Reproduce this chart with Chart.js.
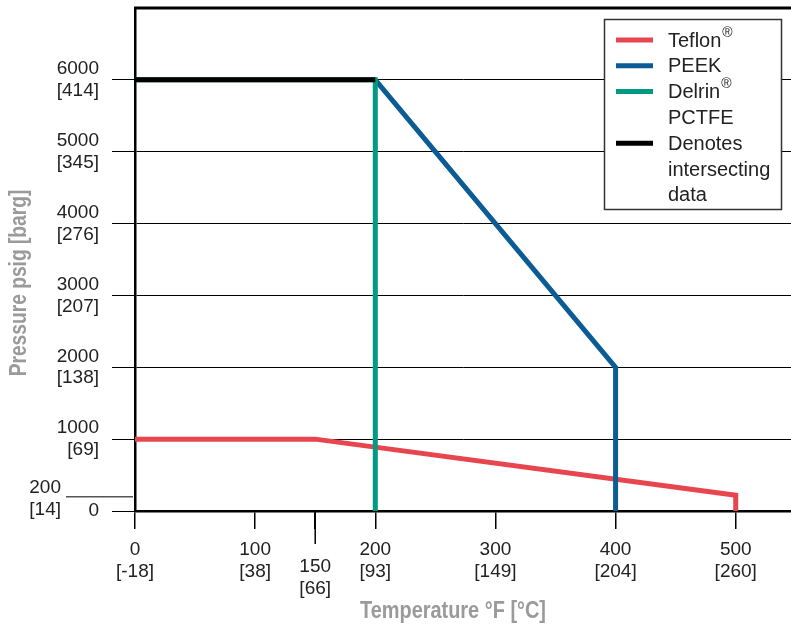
<!DOCTYPE html>
<html>
<head>
<meta charset="utf-8">
<script src="https://cdn.jsdelivr.net/npm/chart.js@4.4.1/dist/chart.umd.min.js"></script>
<style>
  html, body { margin: 0; padding: 0; background: #fff; }
  #wrap { position: relative; width: 791px; height: 635px; }
</style>
</head>
<body>
<div id="wrap"><canvas id="myChart" width="791" height="635"></canvas></div>
<script>
const FONT = "'Liberation Sans', Arial, sans-serif";

// x axis: temperature in F, with C in brackets
const tempTicks = [0, 100, 150, 200, 300, 400, 500];
const tempC = ['[-18]', '[38]', '[66]', '[93]', '[149]', '[204]', '[260]'];

// y axis: pressure psig, with barg in brackets
const pressTicks = [0, 1000, 2000, 3000, 4000, 5000, 6000];
const pressBarg = ['', '[69]', '[138]', '[207]', '[276]', '[345]', '[414]'];
const lowTick = 200;
const lowTickBarg = '[14]';

// series
const teflonX = [0, 150, 500, 500];
const teflonY = [1000, 1000, 220, 0];
const peekX = [200, 400, 400];
const peekY = [6000, 2000, 0];
const delrinX = [0, 200, 200];
const delrinY = [6000, 6000, 0];
const sharedX = [0, 200];
const sharedY = [6000, 6000];

const legendText = [['Teflon®'], ['PEEK'], ['Delrin®', 'PCTFE'], ['Denotes', 'intersecting', 'data']];

const pts = (xs, ys) => xs.map((x, i) => ({ x: x, y: ys[i] }));

function line(label, xs, ys, color, order) {
    return {
        label: label,
        data: pts(xs, ys),
        borderColor: color,
        backgroundColor: color,
        borderWidth: 5,
        pointRadius: 0,
        tension: 0,
        fill: false,
        borderJoinStyle: 'miter',
        borderCapStyle: 'butt',
        order: order
    };
}

// condensed-looking bold title (squeezed horizontally)
function titleText(c, s, x, y, rot, sq) {
    c.save();
    c.translate(x, y);
    if (rot) c.rotate(-Math.PI / 2);
    c.scale(sq, 1);
    c.fillText(s, 0, 0);
    c.restore();
}

// draws extra bits: top frame, 200 tick, x labels, axis titles, legend
const extras = {
    id: 'extras',
    afterDraw(chart) {
        const c = chart.ctx;
        const a = chart.chartArea;
        const xs = chart.scales.x;
        const ys = chart.scales.y;
        c.save();

        // top frame line
        c.strokeStyle = '#000';
        c.lineWidth = 3;
        c.beginPath();
        c.moveTo(a.left - 1, a.top);
        c.lineTo(a.right, a.top);
        c.stroke();

        // longer tick for 150
        const x150 = xs.getPixelForValue(150);
        c.lineWidth = 1.5;
        c.beginPath();
        c.moveTo(x150, a.bottom);
        c.lineTo(x150, a.bottom + 33);
        c.stroke();

        // 200 psig marker
        const y200 = ys.getPixelForValue(lowTick);
        c.strokeStyle = '#555';
        c.lineWidth = 1.5;
        c.beginPath();
        c.moveTo(66, y200);
        c.lineTo(a.left - 2, y200);
        c.stroke();
        c.fillStyle = '#222';
        c.font = '19px ' + FONT;
        c.textAlign = 'right';
        c.textBaseline = 'middle';
        c.fillText(String(lowTick), 61, y200 - 9);
        c.fillText(lowTickBarg, 61, y200 + 13);

        // x tick labels
        c.textAlign = 'center';
        tempTicks.forEach((t, i) => {
            const px = xs.getPixelForValue(t);
            const off = t === 150 ? 17 : 0;
            c.fillText(String(t), px, a.bottom + 39 + off);
            c.fillText(tempC[i], px, a.bottom + 61 + off);
        });

        // axis titles
        c.fillStyle = '#9a9a9a';
        c.font = 'bold 24px ' + FONT;
        titleText(c, 'Temperature °F [°C]', 453, 611, false, 0.83);
        titleText(c, 'Pressure psig [barg]', 19, 283, true, 0.8);

        // legend
        c.fillStyle = '#fff';
        c.fillRect(604, 19, 177, 190);
        c.strokeStyle = '#333';
        c.lineWidth = 1.5;
        c.strokeRect(604.5, 19.5, 177, 190);
        let row = 0;
        const ds = chart.data.datasets;
        legendText.forEach((lines, k) => {
            const yTop = 40 + row * 25.8;
            c.strokeStyle = ds[k].borderColor;
            c.lineWidth = 5;
            c.beginPath();
            c.moveTo(616, yTop);
            c.lineTo(653, yTop);
            c.stroke();
            lines.forEach((s, j) => {
                const ty = yTop + 1 + j * 25.8;
                c.fillStyle = '#222';
                c.textAlign = 'left';
                c.font = '20px ' + FONT;
                const parts = s.split('®');
                c.fillText(parts[0], 668, ty);
                if (parts.length > 1) {
                    const w = c.measureText(parts[0]).width;
                    c.font = '14px ' + FONT;
                    c.fillText('®', 668 + w + 1, ty - 8);
                }
            });
            row += lines.length;
        });

        c.restore();
    }
};

const ctx = document.getElementById('myChart').getContext('2d');

const myChart = new Chart(ctx, {
    type: 'line',
    data: {
        datasets: [
            line(legendText[0].join(' '), teflonX, teflonY, '#e8464e', 3),
            line(legendText[1].join(' '), peekX, peekY, '#0b5b94', 2),
            line(legendText[2].join(' '), delrinX, delrinY, '#009a83', 1),
            line(legendText[3].join(' '), sharedX, sharedY, '#000000', 0)
        ]
    },
    options: {
        responsive: false,
        animation: false,
        layout: { padding: { top: 8, right: 0, bottom: 0, left: 0 } },
        plugins: {
            legend: { display: false },
            tooltip: { enabled: false }
        },
        scales: {
            x: {
                type: 'linear',
                min: 0,
                max: 546,
                afterBuildTicks: s => { s.ticks = tempTicks.map(v => ({ value: v })); },
                afterFit: s => { s.height = 124; s.paddingLeft = 0; s.paddingRight = 0; },
                ticks: { display: false },
                grid: {
                    drawOnChartArea: false,
                    tickLength: 18,
                    color: '#000',
                    lineWidth: 1.5
                },
                border: { color: '#000', width: 2.5 }
            },
            y: {
                min: 0,
                max: 7000,
                afterBuildTicks: s => { s.ticks = pressTicks.map(v => ({ value: v })); },
                afterFit: s => { s.width = 135; s.paddingTop = 0; s.paddingBottom = 0; },
                ticks: {
                    padding: 13,
                    color: '#222',
                    font: { family: FONT, size: 19, lineHeight: 1.15 },
                    callback: (v) => {
                        const i = pressTicks.indexOf(v);
                        return v === 0 ? '0' : [String(v), pressBarg[i]];
                    }
                },
                grid: {
                    color: '#000',
                    lineWidth: 1,
                    tickLength: 23
                },
                border: { color: '#000', width: 2.5 }
            }
        }
    },
    plugins: [extras]
});
</script>
</body>
</html>
